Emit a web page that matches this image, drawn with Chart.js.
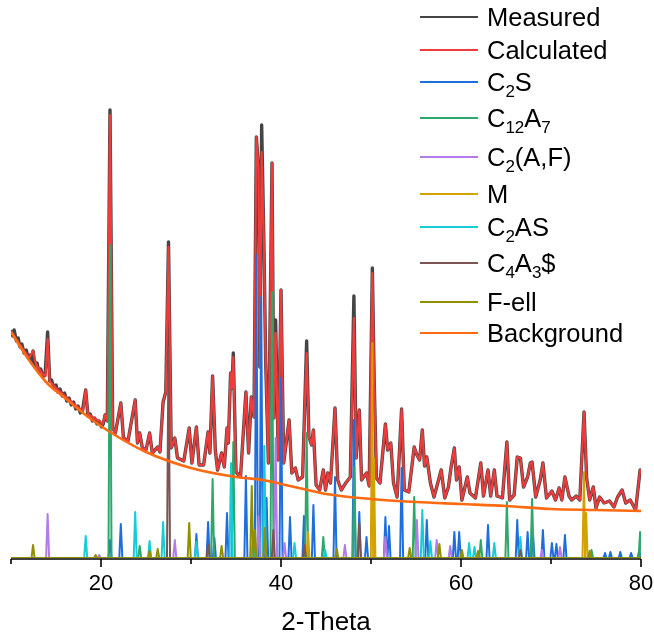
<!DOCTYPE html>
<html>
<head>
<meta charset="utf-8">
<script src="https://cdn.jsdelivr.net/npm/chart.js@4.4.1/dist/chart.umd.min.js"></script>
<style>
    body { margin: 0; background: #fff; }
    #wrap { width: 654px; height: 637px; }
</style>
</head>
<body>
<div id="wrap"><canvas id="xrd-chart"></canvas></div>
<script>
/* Rietveld fit of a clinker powder pattern: measured, calculated, phases and background. */

const twoThetaMin = 10;
const twoThetaMax = 80;
const majorTicks = [20, 40, 60, 80];
const minorTicks = [10, 30, 50, 70];
const axisTitle = "2-Theta";

// Refined background, [2theta, counts]
const background = [
    [10, 226], [12, 198], [14, 175], [16, 160], [18, 145], [21, 126], [25, 106], [30, 90],
    [35, 81], [38, 78], [40, 74], [42.5, 69], [45, 64], [50, 59], [55, 56], [60, 54], [65, 52],
    [70, 49], [75, 48], [80, 47],
];

// Calculated profile, [2theta, counts]
const calculated = [
    [10.0, 227], [11.0, 213], [12.0, 200], [12.45, 207], [12.8, 193], [13.5, 184], [13.85, 182],
    [14.07, 219], [14.3, 177], [15.0, 170], [16.0, 162], [17.0, 154], [18.0, 147], [18.3, 168],
    [18.55, 144], [19.4, 139], [19.8, 137], [20.2, 134], [20.45, 143], [20.7, 137], [21.0, 443],
    [21.3, 130], [21.6, 125], [22.2, 155], [22.5, 120], [23.0, 117], [23.8, 158], [24.05, 115],
    [24.3, 125], [24.6, 110], [25.0, 108], [25.4, 125], [25.7, 105], [26.3, 111], [26.55, 106],
    [26.9, 156], [27.2, 166], [27.5, 311], [27.8, 110], [28.2, 120], [28.5, 100], [29.2, 97],
    [29.8, 130], [30.1, 95], [30.6, 131], [30.9, 93], [31.4, 93], [31.9, 126], [32.1, 105],
    [32.4, 182], [32.7, 108], [32.95, 88], [33.4, 105], [33.7, 91], [34.0, 130], [34.15, 115],
    [34.4, 185], [34.55, 170], [34.7, 201], [35.0, 86], [35.5, 81], [36.1, 166], [36.4, 105],
    [36.7, 161], [37.0, 141], [37.26, 421], [37.5, 390], [37.65, 191], [37.85, 406], [38.1, 315],
    [38.3, 195], [38.6, 95], [39.0, 395], [39.2, 140], [39.4, 225], [39.7, 98], [40.0, 268],
    [40.3, 95], [40.9, 138], [41.2, 85], [41.6, 90], [41.9, 78], [42.4, 81], [42.6, 141],
    [42.85, 205], [43.1, 121], [43.4, 113], [43.6, 128], [43.9, 73], [44.3, 68], [44.7, 88],
    [44.95, 68], [45.2, 85], [45.5, 75], [46.0, 150], [46.3, 78], [46.7, 68], [47.2, 75],
    [47.7, 81], [48.1, 240], [48.35, 100], [48.7, 148], [48.95, 78], [49.5, 85], [49.8, 72],
    [50.15, 285], [50.35, 180], [50.6, 80], [51.0, 75], [51.6, 134], [51.85, 108], [52.2, 115],
    [52.5, 75], [52.9, 61], [53.4, 149], [53.7, 68], [54.2, 66], [54.8, 111], [55.1, 103],
    [55.4, 98], [55.7, 128], [55.95, 92], [56.2, 101], [56.6, 75], [57.0, 61], [57.8, 88],
    [58.2, 60], [58.6, 71], [58.9, 91], [59.26, 110], [59.5, 78], [59.8, 91], [60.1, 58],
    [60.7, 81], [61.0, 65], [61.6, 60], [62.2, 95], [62.5, 62], [63.0, 88], [63.3, 62],
    [63.7, 88], [64.0, 62], [64.6, 60], [65.1, 116], [65.4, 58], [65.9, 63], [66.25, 101],
    [66.6, 100], [66.95, 71], [67.4, 81], [67.7, 95], [67.9, 96], [68.3, 61], [68.8, 78],
    [69.1, 95], [69.5, 60], [70.1, 67], [70.5, 58], [70.9, 70], [71.2, 58], [71.55, 81],
    [72.0, 62], [72.3, 58], [72.8, 62], [73.2, 58], [73.67, 146], [73.96, 80], [74.3, 58],
    [74.7, 71], [75.0, 50], [75.4, 61], [75.9, 55], [76.5, 57], [77.0, 51], [77.4, 61],
    [77.9, 68], [78.3, 55], [78.8, 58], [79.4, 48], [79.9, 88], [80.0, 85],
];

// Measured counts below 21 degrees, where the scan is noisy
const measuredLowAngle = [
    [10.0, 228], [10.2, 222], [10.35, 228], [10.6, 217], [10.8, 220], [11.0, 211], [11.2, 214],
    [11.45, 205], [11.7, 208], [11.9, 200], [12.1, 203], [12.3, 195], [12.45, 207], [12.65, 192],
    [12.9, 195], [13.1, 186], [13.3, 189], [13.55, 181], [13.8, 185], [14.07, 226], [14.3, 177],
    [14.5, 178], [14.75, 171], [15.0, 173], [15.2, 166], [15.45, 169], [15.7, 162], [15.95, 165],
    [16.2, 157], [16.45, 160], [16.7, 153], [16.95, 156], [17.2, 149], [17.45, 152], [17.7, 145],
    [17.95, 148], [18.3, 168], [18.55, 142], [18.8, 144], [19.05, 137], [19.3, 140], [19.55, 134],
    [19.8, 137], [20.05, 131], [20.25, 134], [20.45, 143], [20.7, 137],
];

// Measured tops that stand above the fit
const measuredTops = [
    [21.0, 448], [27.5, 316], [34.7, 205], [37.85, 433], [39.4, 238],
    [42.85, 217], [48.1, 262], [50.15, 290],
];

// Phase reflections, [2theta, height]
const c2s = [
    [21.0, 18], [22.2, 34], [30.6, 24], [31.9, 36], [32.6, 20], [34.0, 45], [36.1, 82],
    [37.26, 303], [37.8, 261], [38.4, 60], [40.0, 180], [41.0, 41], [42.55, 42], [43.6, 53],
    [46.0, 81], [48.1, 138], [48.7, 46], [49.5, 21], [51.6, 41], [52.0, 32], [53.4, 90],
    [56.2, 38], [59.26, 26], [59.8, 26], [63.0, 33], [66.25, 38], [67.4, 26], [68.0, 24],
    [69.1, 28], [70.1, 15], [70.6, 14], [71.55, 23], [76.0, 5], [76.6, 6], [77.7, 6],
    [78.9, 5], [79.8, 7],
];
const c12a7 = [
    [21.0, 313], [24.3, 12], [32.4, 79], [34.7, 116], [39.0, 266], [42.85, 125], [44.7, 21],
    [48.15, 91], [54.8, 61], [62.2, 18], [65.1, 56], [67.9, 59], [74.5, 8], [79.9, 26],
];
const c2af = [
    [14.07, 44], [19.8, 3], [28.2, 18], [37.5, 42], [39.4, 120], [40.4, 15], [47.1, 13],
    [51.6, 21], [55.1, 38], [57.3, 18], [58.8, 12], [69.0, 8], [71.0, 11],
];
const periclase = [
    [43.0, 26], [50.15, 215], [50.32, 100], [73.67, 86], [73.9, 45],
];
const c2as = [
    [18.3, 22], [23.8, 46], [25.4, 17], [26.9, 36], [30.6, 16], [34.45, 95], [36.9, 25],
    [38.15, 112], [41.5, 15], [44.9, 8], [55.7, 48], [56.6, 17], [60.9, 15], [61.5, 11],
    [63.7, 15], [66.6, 21],
];
const c4a3s = [
    [27.5, 211], [31.9, 13], [39.15, 28], [42.6, 13], [48.7, 35], [66.6, 8],
];
const ferrite = [
    [12.45, 13], [19.4, 3], [25.4, 7], [26.3, 9], [29.8, 35], [33.4, 12], [36.75, 72],
    [37.1, 28], [38.2, 30], [46.2, 9], [54.3, 10], [57.6, 14], [60.1, 8], [61.9, 7], [74.3, 7],
];

// Legend entries, split into normal / subscript runs
const legendLabels = [
    [["Measured"]],
    [["Calculated"]],
    [["C"], ["2", true], ["S"]],
    [["C"], ["12", true], ["A"], ["7", true]],
    [["C"], ["2", true], ["(A,F)"]],
    [["M"]],
    [["C"], ["2", true], ["AS"]],
    [["C"], ["4", true], ["A"], ["3", true], ["$"]],
    [["F-ell"]],
    [["Background"]],
];

/* Building the traces *************************************************/

const toPoints = (pairs) => pairs.map(([x, y]) => ({x, y}));

// each reflection is drawn as a narrow spike on a zero baseline
const peakHalfWidth = 0.17;
const phaseTrace = (peaks) => {
    const pts = [{x: twoThetaMin, y: 0}];
    [...peaks].sort((a, b) => a[0] - b[0]).forEach(([pos, h]) => {
        const last = pts[pts.length - 1];
        if (last.x > pos - peakHalfWidth) {
            // overlapping reflections meet halfway between the two tops
            last.x = (pts[pts.length - 2].x + pos) / 2;
        } else {
            pts.push({x: pos - peakHalfWidth, y: 0});
        }
        pts.push({x: pos, y: h}, {x: pos + peakHalfWidth, y: 0});
    });
    pts.push({x: twoThetaMax, y: 0});
    return pts;
};

const lowAngleEnd = measuredLowAngle[measuredLowAngle.length - 1][0];
const measuredTrace = toPoints(measuredLowAngle).concat(
    calculated.filter(([x]) => x > lowAngleEnd).map(([x, y]) => {
        const top = measuredTops.find((t) => t[0] === x);
        return {x, y: top ? top[1] : y};
    })
);

const series = [
    {label: "Measured", data: measuredTrace, color: "#454545", width: 3.4, order: 10},
    {label: "Calculated", data: toPoints(calculated), color: "#ee3b3b", width: 2.2, order: 9},
    {label: "C2S", data: phaseTrace(c2s), color: "#1f6ede", width: 2, order: 8},
    {label: "C12A7", data: phaseTrace(c12a7), color: "#2fa66a", width: 2, order: 7},
    {label: "C2(A,F)", data: phaseTrace(c2af), color: "#b27ce6", width: 2, order: 6},
    {label: "M", data: phaseTrace(periclase), color: "#d3a200", width: 2, order: 5},
    {label: "C2AS", data: phaseTrace(c2as), color: "#16cdd6", width: 2, order: 4},
    {label: "C4A3$", data: phaseTrace(c4a3s), color: "#7c5454", width: 2, order: 3},
    {label: "F-ell", data: phaseTrace(ferrite), color: "#8f8f00", width: 2, order: 2},
    {label: "Background", data: toPoints(background), color: "#ff6a12", width: 2.6, order: 1, smooth: true},
];

/* Axis and legend drawing *********************************************/

const FONT = "'Liberation Sans', Arial, sans-serif";

const decorPlugin = {
    id: "decor",
    beforeDatasetsDraw(chart) {
        const {ctx, chartArea, scales} = chart;
        const x = scales.x;
        const yAxis = chartArea.bottom + 1;
        ctx.save();
        ctx.strokeStyle = "#000";
        ctx.lineWidth = 1.6;
        ctx.beginPath();
        ctx.moveTo(x.getPixelForValue(twoThetaMin), yAxis);
        ctx.lineTo(x.getPixelForValue(twoThetaMax), yAxis);
        majorTicks.forEach((t) => {
            const px = x.getPixelForValue(t);
            ctx.moveTo(px, yAxis);
            ctx.lineTo(px, yAxis + 8);
        });
        minorTicks.forEach((t) => {
            const px = x.getPixelForValue(t);
            ctx.moveTo(px, yAxis);
            ctx.lineTo(px, yAxis + 5);
        });
        ctx.stroke();

        ctx.fillStyle = "#000";
        ctx.textAlign = "center";
        ctx.textBaseline = "middle";
        ctx.font = `22px ${FONT}`;
        majorTicks.forEach((t) => ctx.fillText(String(t), x.getPixelForValue(t), yAxis + 25));
        ctx.font = `26px ${FONT}`;
        ctx.fillText(axisTitle, (chartArea.left + chartArea.right) / 2, yAxis + 64);
        ctx.restore();
    },
    afterDraw(chart) {
        const {ctx} = chart;
        const rows = [17, 50, 82, 118, 157, 194, 227, 263, 302, 333];
        ctx.save();
        legendLabels.forEach((runs, i) => {
            const y = rows[i];
            const ds = chart.data.datasets[i];
            ctx.strokeStyle = ds.borderColor;
            ctx.lineWidth = 2;
            ctx.beginPath();
            ctx.moveTo(420, y);
            ctx.lineTo(478, y);
            ctx.stroke();

            let tx = 487;
            ctx.fillStyle = "#000";
            ctx.textAlign = "left";
            ctx.textBaseline = "alphabetic";
            runs.forEach(([text, sub]) => {
                ctx.font = sub ? `17px ${FONT}` : `25.5px ${FONT}`;
                ctx.fillText(text, tx, sub ? y + 15 : y + 9);
                tx += ctx.measureText(text).width;
            });
        });
        ctx.restore();
    },
};

/* Chart ***************************************************************/

const xrdChart = new Chart(document.getElementById("xrd-chart"), {
    type: "line",
    data: {
        datasets: series.map((s) => ({
            label: s.label,
            data: s.data,
            borderColor: s.color,
            borderWidth: s.width,
            order: s.order,
            pointRadius: 0,
            fill: false,
            tension: s.smooth ? 0.4 : 0,
            cubicInterpolationMode: s.smooth ? "monotone" : "default",
            borderJoinStyle: "round",
        })),
    },
    options: {
        responsive: true,
        maintainAspectRatio: false,
        animation: false,
        layout: {padding: {left: 11, right: 13, top: 0, bottom: 79}},
        plugins: {legend: {display: false}, tooltip: {enabled: false}},
        scales: {
            x: {type: "linear", min: twoThetaMin, max: twoThetaMax, display: false},
            y: {type: "linear", min: 0, max: 558, display: false},
        },
    },
    plugins: [decorPlugin],
});
</script>
</body>
</html>
